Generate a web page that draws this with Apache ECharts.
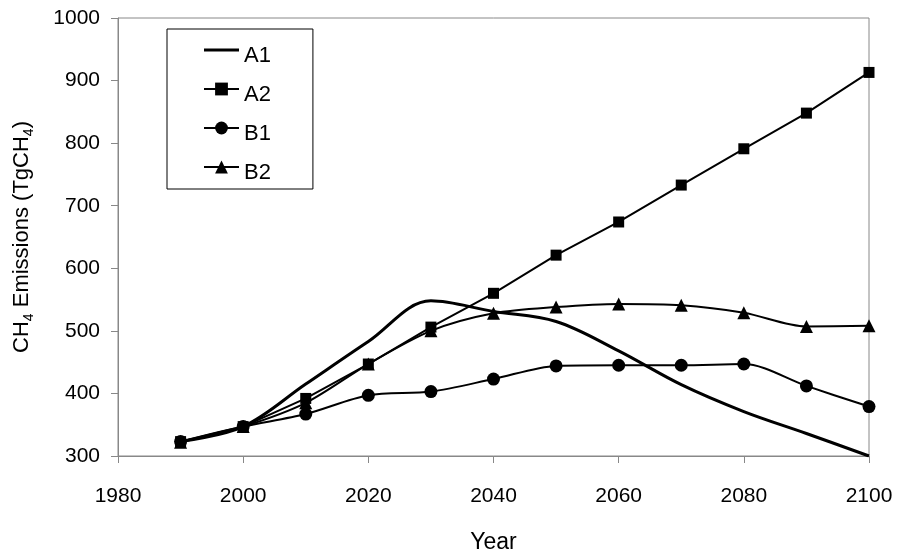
<!DOCTYPE html>
<html>
<head>
<meta charset="utf-8">
<script src="https://cdn.jsdelivr.net/npm/echarts@6/dist/echarts.min.js"></script>
<style>html,body{margin:0;padding:0;background:#fff;}#c{width:898px;height:554px;}</style>
</head>
<body>
<div id="c"></div>
<script>
const years = [1990, 2000, 2010, 2020, 2030, 2040, 2050, 2060, 2070, 2080, 2090, 2100];
const A1 = [323, 347, 415, 483, 548, 531, 515, 468, 414, 371, 336, 300];
const A2 = [323, 347, 392, 447, 506, 560, 621, 674, 733, 791, 848, 913];
const B1 = [323, 347, 367, 397, 403, 423, 444, 445, 445, 447, 412, 379];
const B2 = [322, 347, 385, 447, 500, 528, 538, 543, 541, 529, 507, 508];
const xTicks = [1980, 2000, 2020, 2040, 2060, 2080, 2100];
const seriesNames = ['A1', 'A2', 'B1', 'B2'];

const pairs = arr => years.map((y, i) => [y, arr[i]]);
const font = 'Liberation Sans, Arial, sans-serif';
const chart = echarts.init(document.getElementById('c'));
const base = { type: 'line', color: '#000', animation: false };
const lineOnlyIcon = 'path://M0,0h0.01v0.01h-0.01zM0,6.5h35v3h-35zM0,15.99h0.01v0.01h-0.01z';
chart.setOption({
  backgroundColor: '#fff',
  textStyle: { fontFamily: font },
  grid: { left: 118, top: 18, right: 29, bottom: 98, show: true, borderColor: '#888', borderWidth: 1,
    containLabel: false, outerBoundsMode: 'none' },
  legend: {
    orient: 'vertical', left: 167, top: 29,
    padding: [4, 42, 5, 36],
    itemWidth: 35, itemHeight: 16, itemGap: 5,
    borderColor: '#000', borderWidth: 1,
    formatter: n => '{t|' + n + '}',
    textStyle: { fontSize: 22, color: '#000', fontFamily: font,
      rich: { t: { fontSize: 22, color: '#000', fontFamily: font, lineHeight: 22, padding: [12, 0, 0, 0] } } },
    data: [{ name: seriesNames[0], icon: lineOnlyIcon }, seriesNames[1], seriesNames[2], seriesNames[3]]
  },
  xAxis: {
    type: 'value', min: 1980, max: 2100, interval: 20,
    name: 'Year', nameLocation: 'middle', nameGap: 75,
    nameTextStyle: { fontSize: 23, color: '#000', fontFamily: font },
    axisLine: { lineStyle: { color: '#888' } },
    axisTick: { length: 7, lineStyle: { color: '#888' } },
    axisLabel: { fontSize: 21, color: '#000', margin: 30, fontFamily: font,
      formatter: v => xTicks.includes(v) ? String(v) : '' },
    splitLine: { show: false }
  },
  yAxis: {
    type: 'value', min: 300, max: 1000, interval: 100,
    name: '{m|CH}{s|4}{m| Emissions (TgCH}{s|4}{m|)}', nameLocation: 'middle', nameGap: 82,
    nameTextStyle: { color: '#000', fontFamily: font,
      rich: { m: { fontSize: 22, color: '#000', fontFamily: font, lineHeight: 28, verticalAlign: 'middle' },
              s: { fontSize: 14, color: '#000', fontFamily: font, lineHeight: 28, verticalAlign: 'bottom' } } },
    axisLine: { show: true, lineStyle: { color: '#888' } },
    axisTick: { show: true, length: 7, lineStyle: { color: '#888' } },
    axisLabel: { fontSize: 21, color: '#000', margin: 18, fontFamily: font, padding: [7, 0, 0, 0],
      formatter: v => String(v) },
    splitLine: { show: false }
  },
  series: [
    Object.assign({}, base, { name: seriesNames[0], data: pairs(A1), smooth: 0.35, symbol: 'none', lineStyle: { width: 3, color: '#000' }, itemStyle: { color: '#000' } }),
    Object.assign({}, base, { name: seriesNames[1], data: pairs(A2), symbol: 'rect', symbolSize: 11, lineStyle: { width: 2, color: '#000' }, itemStyle: { color: '#000' } }),
    Object.assign({}, base, { name: seriesNames[2], data: pairs(B1), smooth: 0.3, symbol: 'circle', symbolSize: 13, lineStyle: { width: 2, color: '#000' }, itemStyle: { color: '#000' } }),
    Object.assign({}, base, { name: seriesNames[3], data: pairs(B2), smooth: 0.3, symbol: 'triangle', symbolSize: 13, lineStyle: { width: 2, color: '#000' }, itemStyle: { color: '#000' } })
  ]
});
</script>
</body>
</html>
